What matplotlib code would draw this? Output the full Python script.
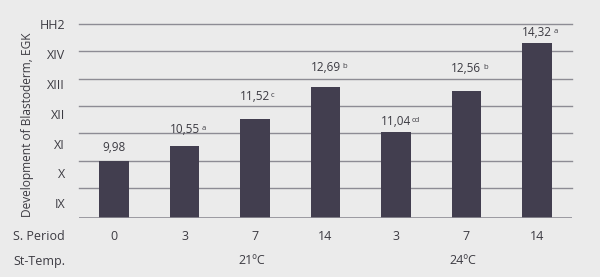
import matplotlib.pyplot as plt
import matplotlib.transforms as mtransforms

# data
periods = ['0', '3', '7', '14', '3', '7', '14']
values = [9.98, 10.55, 11.52, 12.69, 11.04, 12.56, 14.32]
value_labels = ['9,98', '10,55', '11,52', '12,69', '11,04', '12,56', '14,32']
letters = ['', ' a', 'c', ' b', 'cd', ' b', ' a']
temps = ['21ºC', '24ºC']
temp_pos = [2, 5]
stage_labels = ['IX', 'X', 'XI', 'XII', 'XIII', 'XIV', 'HH2']
stage_vals = [9, 10, 11, 12, 13, 14, 15]

# label offsets above each bar, in pixels (as in the source)
label_gap = [14, 16, 23, 20, 11, 22, 10]

bg = '#ebebeb'
bar_col = '#423e4f'
grid_col = '#8d8c94'
txt_col = '#3c3b42'

plt.rcParams['font.family'] = ['Open Sans', 'DejaVu Sans']

fig = plt.figure(figsize=(6, 2.77), dpi=100, facecolor=bg)
ax = fig.add_axes([79/600, 1-218/277, 493/600, 194/277])
ax.set_facecolor(bg)

x = list(range(len(values)))
ax.bar(x, values, width=0.42, color=bar_col, zorder=3)
ax.set_xlim(-0.5, 6.5)
ax.set_ylim(7.9, 15)

# gridlines on the stage levels, labels drift slightly like the source
for v in stage_vals:
    ax.axhline(v, color=grid_col, linewidth=1.0, zorder=0, clip_on=False)
ax.axhline(7.9, color=grid_col, linewidth=1.2, zorder=4)
lab_pos = [8.45, 9.53, 10.62, 11.7, 12.8, 13.9, 15.0]
ax.set_yticks(lab_pos)
ax.set_yticklabels(stage_labels)
ax.tick_params(axis='y', which='both', length=0, pad=10, labelsize=9, labelcolor=txt_col)
ax.set_xticks([])
for s in ax.spines.values():
    s.set_visible(False)

ax.set_ylabel('Development of Blastoderm, EGK', fontsize=8.6, color=txt_col)
ax.yaxis.set_label_coords(-0.091, 0.48)

# value labels with superscript letters
for xi, v, lab, let, gap in zip(x, values, value_labels, letters, label_gap):
    off = mtransforms.offset_copy(ax.transData, fig=fig, x=0, y=gap, units='dots')
    t = ax.text(xi, v, lab, transform=off, ha='center', va='center',
                fontsize=8.5, color=txt_col)
    if let:
        ax.annotate(let, xy=(1, 1), xycoords=t, xytext=(0.5, -1.5),
                    textcoords='offset points', ha='left', va='top',
                    fontsize=5.5, color=txt_col)

# bottom rows
tr = mtransforms.blended_transform_factory(ax.transData, fig.transFigure)
for xi, p in zip(x, periods):
    ax.text(xi, 1-236/277, p, transform=tr, ha='center', va='center',
            fontsize=9, color=txt_col)
for xi, t in zip(temp_pos, temps):
    ax.text(xi - 0.05, 1-261/277, t, transform=tr, ha='center', va='center',
            fontsize=9, color=txt_col)
fig.text(65/600, 1-236/277, 'S. Period', ha='right', va='center', fontsize=9, color=txt_col)
fig.text(65/600, 1-261/277, 'St-Temp.', ha='right', va='center', fontsize=9, color=txt_col)

plt.savefig('out.png', dpi=100, facecolor=bg)
